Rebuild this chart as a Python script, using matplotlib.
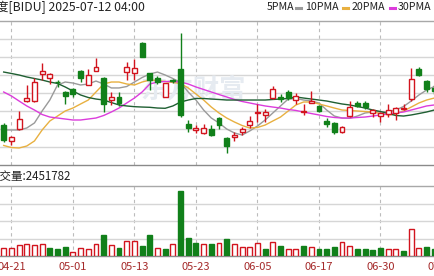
import matplotlib
matplotlib.use('Agg')
import matplotlib.pyplot as plt
from matplotlib.lines import Line2D

plt.rcParams['font.family'] = ['Noto Sans CJK SC', 'DejaVu Sans']

# ---- data ----
opens = [84.44, 82.70, 84.00, 87.11, 87.11, 90.08, 89.63, 89.22, 88.14, 88.44,
         90.48, 88.89, 90.48, 89.70, 87.22, 87.59, 90.37, 90.19, 93.52, 90.19,
         89.63, 87.59, 89.40, 90.63, 84.52, 83.89, 83.52, 83.97, 85.19, 82.97,
         83.14, 83.70, 84.44, 85.74, 85.56, 87.41, 87.52, 88.14, 87.22, 85.94,
         86.92, 86.56, 84.92, 84.63, 83.63, 85.44, 86.92, 86.86, 85.74, 85.44,
         85.67, 85.81, 86.19, 87.30, 90.63, 89.33, 88.60]
closes = [82.78, 83.14, 85.11, 87.39, 89.26, 90.44, 90.14, 89.17, 87.70, 87.89,
          89.70, 90.00, 90.92, 86.78, 87.59, 86.86, 90.92, 90.74, 92.03, 89.44,
          89.19, 89.08, 89.30, 85.56, 84.08, 84.06, 84.14, 83.33, 84.44, 82.11,
          83.30, 83.97, 84.92, 85.92, 85.92, 88.41, 87.30, 87.41, 87.67, 86.00,
          87.11, 86.00, 84.56, 83.70, 84.26, 86.48, 86.56, 86.48, 86.11, 85.81,
          86.11, 86.30, 86.30, 89.52, 90.00, 88.41, 88.20]
highs = [84.67, 83.22, 86.00, 88.89, 89.70, 91.30, 90.26, 89.44, 88.22, 88.52,
         90.56, 90.63, 91.86, 89.78, 88.14, 88.14, 91.48, 91.74, 93.70, 90.26,
         89.92, 89.11, 89.60, 94.70, 85.00, 84.44, 84.52, 84.44, 85.37, 83.08,
         83.70, 84.26, 85.44, 86.78, 86.19, 88.78, 87.89, 88.33, 87.97, 86.78,
         88.22, 86.67, 85.19, 84.81, 84.33, 87.14, 87.14, 87.14, 86.19, 85.92,
         86.78, 86.48, 86.78, 90.74, 90.92, 89.44, 88.90]
lows = [82.56, 82.22, 83.89, 87.00, 87.03, 89.44, 88.97, 88.67, 86.78, 87.59,
        89.26, 88.86, 90.44, 85.92, 86.67, 86.56, 89.44, 89.44, 91.97, 88.33,
        88.97, 87.56, 89.10, 85.30, 83.70, 83.52, 83.44, 83.22, 83.97, 81.37,
        82.67, 83.33, 84.08, 84.81, 84.81, 87.30, 87.03, 87.22, 86.78, 85.56,
        86.89, 85.92, 84.26, 83.44, 83.52, 85.30, 86.41, 86.19, 85.37, 84.81,
        85.37, 85.00, 86.11, 87.14, 89.92, 88.14, 87.90]
volumes = [1.90e6, 1.90e6, 2.51e6, 2.67e6, 2.51e6, 2.67e6, 1.76e6, 1.60e6, 2.13e6, 0.98e6,
           1.76e6, 1.60e6, 2.67e6, 4.80e6, 2.51e6, 1.76e6, 3.50e6, 3.43e6, 2.29e6, 4.80e6,
           1.90e6, 1.60e6, 2.67e6, 14.86e6, 4.05e6, 3.04e6, 2.67e6, 2.67e6, 2.90e6, 3.82e6,
           2.67e6, 2.13e6, 2.13e6, 3.04e6, 1.60e6, 3.20e6, 2.29e6, 1.60e6, 1.60e6, 2.29e6,
           2.13e6, 1.60e6, 1.60e6, 2.13e6, 3.13e6, 2.35e6, 1.53e6, 1.60e6, 1.37e6, 1.90e6,
           1.60e6, 1.60e6, 1.21e6, 6.10e6, 1.76e6, 2.13e6, 1.53e6]
vol_up = [1, 1, 1, 1, 1, 1, 0, 0, 0, 1, 1, 1, 1, 0, 1, 0, 1, 1, 0, 0,
          1, 0, 1, 0, 0, 0, 1, 0, 1, 0, 1, 1, 1, 1, 0, 1, 0, 1, 1, 0,
          1, 0, 0, 0, 1, 1, 0, 0, 0, 0, 1, 1, 0, 1, 1, 0, 0]
ma5 = [83.89, 83.89, 83.89, 84.11, 84.67, 86.00, 87.22, 88.89, 89.22, 89.11,
       88.89, 89.00, 89.33, 89.00, 88.56, 88.56, 88.72, 89.22, 89.72, 90.11,
       90.33, 90.00, 89.61, 89.17, 88.11, 87.22, 86.11, 85.22, 84.67, 84.00,
       83.56, 83.33, 83.78, 84.33, 85.00, 85.78, 86.56, 87.33, 87.39, 87.22,
       87.11, 86.89, 86.11, 85.44, 85.22, 85.19, 85.44, 85.78, 85.89, 85.92,
       85.92, 86.11, 86.50, 87.11, 87.78, 88.33, 88.72]
ma10 = [82.17, 81.94, 81.89, 82.11, 82.67, 83.89, 84.89, 85.44, 86.00, 86.33,
        86.78, 87.22, 88.11, 89.00, 89.22, 89.22, 89.00, 88.89, 89.22, 89.44,
        89.39, 89.28, 89.17, 89.06, 88.56, 87.89, 87.22, 86.44, 85.78, 85.22,
        84.78, 84.39, 84.11, 84.17, 84.44, 84.89, 85.33, 86.00, 86.67, 87.00,
        87.00, 86.78, 86.56, 86.33, 86.11, 86.06, 86.00, 85.94, 85.89, 85.72,
        85.56, 85.67, 86.00, 86.44, 86.89, 87.22, 87.44]
ma20 = [88.11, 87.67, 87.11, 86.56, 86.11, 85.61, 85.33, 85.22, 85.11, 85.00,
        85.00, 85.11, 85.22, 85.50, 85.89, 86.33, 86.89, 87.44, 88.11, 89.00,
        89.22, 89.28, 89.28, 89.22, 89.00, 88.67, 88.39, 88.11, 87.83, 87.56,
        87.28, 87.06, 86.89, 86.72, 86.56, 86.44, 86.33, 86.17, 86.06, 85.89,
        85.72, 85.56, 85.39, 85.28, 85.22, 85.22, 85.28, 85.33, 85.44, 85.56,
        85.67, 85.78, 85.89, 86.11, 86.33, 86.56, 86.67]
ma30 = [90.33, 90.17, 90.00, 89.78, 89.61, 89.44, 89.22, 89.06, 88.67, 88.22,
        87.78, 87.50, 87.33, 87.22, 86.94, 86.67, 86.56, 86.48, 86.44, 86.41,
        86.33, 86.30, 86.56, 87.00, 87.22, 87.39, 87.39, 87.33, 87.28, 87.22,
        87.22, 87.22, 87.22, 87.22, 87.22, 87.28, 87.33, 87.39, 87.56, 87.44,
        87.33, 87.22, 87.11, 86.94, 86.78, 86.67, 86.50, 86.33, 86.11, 85.94,
        85.72, 85.50, 85.44, 85.56, 85.72, 85.89, 86.11]
tick_idx = [1, 9, 17, 25, 33, 41, 49, 57]
tick_labels = ['04-21', '05-01', '05-13', '05-23', '06-05', '06-17', '06-30', '07-11']
header_text = '百度[BIDU] 2025-07-12 04:00'
volume_text = '成交量:2451782'
legend_names = ['5PMA', '10PMA', '20PMA', '30PMA']

# ---- styles ----
RED = '#d2141e'
GREEN = '#11801a'
MA_COLORS = ['#9a9a9a', '#e8b040', '#dc3cdc', '#1f5f32']
GRID = '#d6d6d6'
VGRID = '#bcbcbc'

W, H = 434, 276
fig = plt.figure(figsize=(W / 100, H / 100), dpi=100)


def fy(y):
    return 1 - y / H


ax = fig.add_axes([0, fy(165), 1, (165 - 21) / H])
axv = fig.add_axes([0, fy(256), 1, (256 - 186) / H])

x0, x1 = -0.48, 55.96
n = len(opens)
xs = list(range(n))
bw = 0.64

for a in (ax, axv):
    a.set_xlim(x0, x1)
    a.set_xticks([])
    a.set_yticks([])
    for s in ('left', 'right'):
        a.spines[s].set_visible(False)
    a.spines['top'].set_color('#a8a8a8')
    a.spines['bottom'].set_color('#8a8a8a')
    a.spines['top'].set_linewidth(1.0)
    a.spines['bottom'].set_linewidth(1.0)
    a.set_facecolor('white')
    for t in tick_idx:
        a.axvline(t, color=VGRID, lw=0.8, ls=(0, (3, 3)), zorder=0)

ax.set_ylim(80, 96)
for g in range(82, 96, 2):
    ax.axhline(g, color=GRID, lw=1.0, zorder=0)
axv.set_ylim(0, 16e6)
for g in (4e6, 8e6, 12e6):
    axv.axhline(g, color=GRID, lw=1.0, zorder=0)

# watermark
ax.text(24.6, 88.3, '东方财富', fontsize=19, color='#e6ebf1', ha='center',
        va='center', zorder=0.5, fontweight='bold')

# MA lines
for vals, col in zip((ma5, ma10, ma20, ma30), MA_COLORS):
    ax.plot(xs, vals, color=col, lw=1.0, zorder=2)

# candles
for i in range(n):
    o, c, h, l = opens[i], closes[i], highs[i], lows[i]
    up = c >= o
    top, bot = max(o, c), min(o, c)
    body = max(top - bot, 0.08)
    if up:
        ax.vlines(i, top, h, color=RED, lw=1.0, zorder=3)
        ax.vlines(i, l, bot, color=RED, lw=1.0, zorder=3)
        ax.bar(i, body, bottom=bot, width=bw, facecolor='white',
               edgecolor=RED, lw=1.0, zorder=4)
    else:
        ax.vlines(i, l, h, color=GREEN, lw=1.0, zorder=3)
        ax.bar(i, body, bottom=bot, width=bw, facecolor=GREEN,
               edgecolor=GREEN, lw=1.0, zorder=4)

# volume
for i in range(n):
    if vol_up[i]:
        axv.bar(i, volumes[i], width=bw, facecolor='white', edgecolor=RED,
                lw=1.0, zorder=3)
    else:
        axv.bar(i, volumes[i], width=bw, facecolor=GREEN, edgecolor=GREEN,
                lw=1.0, zorder=3)

# texts
fig.text(-16 / W, fy(7), header_text, fontsize=8.8, color='#222222',
         ha='left', va='center')
fig.text(-11 / W, fy(176.5), volume_text, fontsize=8.3, color='#222222',
         ha='left', va='center')

# legend
lx = [267, 305, 352, 398]
dash_x = [298, 345, 392]
for k, name in enumerate(legend_names):
    fig.text(lx[k] / W, fy(7), name, fontsize=7.6, color='#222222',
             ha='left', va='center')
for k, dx in enumerate(dash_x):
    fig.add_artist(Line2D([(dx - 2.5) / W, (dx + 2.5) / W], [fy(7.5), fy(7.5)],
                          color=MA_COLORS[k], lw=2.2, transform=fig.transFigure))

# date labels
for t, lab in zip(tick_idx, tick_labels):
    xp = (t - x0) / (x1 - x0)
    fig.text(xp, fy(266.5), lab, fontsize=8.0, color='#a52a2a',
             ha='center', va='center')

fig.savefig('out.png', dpi=100)
